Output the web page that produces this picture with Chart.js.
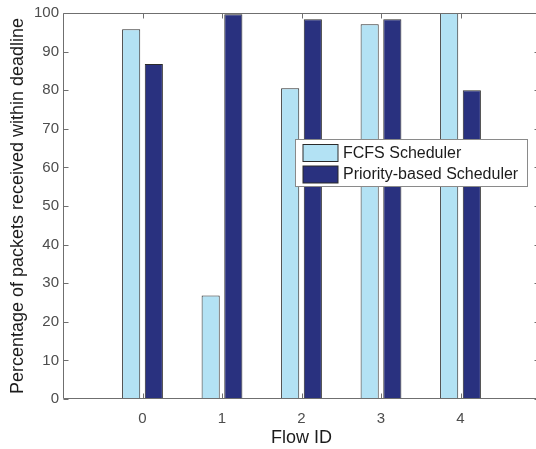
<!DOCTYPE html>
<html>
<head>
<meta charset="utf-8">
<script src="https://cdn.jsdelivr.net/npm/chart.js@4/dist/chart.umd.min.js"></script>
<style>
  html, body { margin: 0; padding: 0; background: #ffffff; overflow: hidden; }
  #wrap { width: 536px; height: 449px; overflow: hidden; }
</style>
</head>
<body>
<div id="wrap">
  <!-- canvas is a few px wider than the window: the right axis of the original is cropped -->
  <canvas id="chartFlows" width="541" height="449"></canvas>
</div>
<script>
const flowIds = [0, 1, 2, 3, 4];
const flowLabels = ['0', '1', '2', '3', '4'];
const fcfsValues = [95.8, 26.8, 80.5, 97.1, 100];
const priorityValues = [86.8, 99.7, 98.4, 98.4, 80.0];
const yTicks = [0, 10, 20, 30, 40, 50, 60, 70, 80, 90, 100];

const AXIS = '#6f6f6f';
const TICK_TEXT = '#4d4d4d';
const TITLE_TEXT = '#1c1c1c';
const FONT = 'Liberation Sans, Arial, Helvetica, sans-serif';

// caixa estilo matlab: borda nos 4 lados, ticks para dentro
const boxPlugin = {
  id: 'matlabBox',
  afterDatasetsDraw(chart) {
    const { ctx, chartArea: a, scales } = chart;
    const L = Math.round(a.left) + 0.5, R = Math.round(a.right) - 0.5;
    const T = Math.round(a.top) + 0.5, B = Math.round(a.bottom) - 0.5;
    ctx.save();
    ctx.strokeStyle = AXIS;
    ctx.lineWidth = 1;
    ctx.beginPath();
    ctx.rect(L, T, R - L, B - T);
    yTicks.forEach((v) => {
      const y = Math.round(scales.y.getPixelForValue(v)) + 0.5;
      ctx.moveTo(L, y); ctx.lineTo(L + 5, y);
      ctx.moveTo(R, y); ctx.lineTo(R - 5, y);
    });
    flowIds.forEach((v) => {
      const x = Math.round(scales.x.getPixelForValue(v)) + 0.5;
      ctx.moveTo(x, B); ctx.lineTo(x, B - 5);
      ctx.moveTo(x, T); ctx.lineTo(x, T + 5);
    });
    ctx.stroke();
    ctx.restore();
  },
  afterDraw(chart) {
    // legenda dentro do grafico, caixa branca
    const { ctx } = chart;
    const box = { x: 295.5, y: 139.5, w: 232, h: 47 };
    ctx.save();
    ctx.fillStyle = '#ffffff';
    ctx.fillRect(box.x, box.y, box.w, box.h);
    ctx.strokeStyle = '#8a8a8a';
    ctx.lineWidth = 1;
    ctx.strokeRect(box.x, box.y, box.w, box.h);
    ctx.font = '16px ' + FONT;
    ctx.textBaseline = 'middle';
    ctx.textAlign = 'left';
    chart.data.datasets.forEach((ds, i) => {
      const py = 144.5 + i * 21.5;
      ctx.fillStyle = ds.backgroundColor;
      ctx.fillRect(303, py, 35, 17);
      ctx.strokeStyle = '#2b2b2b';
      ctx.strokeRect(303, py, 35, 17);
      ctx.fillStyle = TITLE_TEXT;
      ctx.fillText(ds.label, 343, py + 9);
    });
    ctx.restore();
  },
};

new Chart(document.getElementById('chartFlows'), {
  type: 'bar',
  data: {
    datasets: [
      {
        label: 'FCFS Scheduler',
        data: flowIds.map((x, i) => ({ x, y: fcfsValues[i] })),
        backgroundColor: '#b3e2f4',
        borderColor: '#2b2b2b',
        borderWidth: 1,
      },
      {
        label: 'Priority-based Scheduler',
        data: flowIds.map((x, i) => ({ x, y: priorityValues[i] })),
        backgroundColor: '#29317f',
        borderColor: '#2b2b2b',
        borderWidth: 1,
      },
    ],
  },
  options: {
    responsive: false,
    animation: false,
    categoryPercentage: 0.57,
    barPercentage: 0.8,
    layout: { padding: { top: 13, right: 1, bottom: 0, left: 0 } },
    plugins: { legend: { display: false }, tooltip: { enabled: false } },
    scales: {
      x: {
        type: 'linear',
        min: -1,
        max: 5,
        offset: false,
        grid: { display: false, drawTicks: false },
        border: { display: false },
        afterBuildTicks: (scale) => { scale.ticks = flowIds.map((v) => ({ value: v })); },
        afterFit: (scale) => { scale.height = 50; },
        ticks: {
          padding: 11,
          color: TICK_TEXT,
          font: { family: FONT, size: 15 },
          callback: (v) => flowLabels[flowIds.indexOf(v)] ?? '',
        },
        title: {
          display: true,
          text: 'Flow ID',
          color: TITLE_TEXT,
          font: { family: FONT, size: 18 },
          padding: { top: 0, bottom: 0 },
        },
      },
      y: {
        min: 0,
        max: 100,
        grid: { display: false, drawTicks: false },
        border: { display: false },
        afterBuildTicks: (scale) => { scale.ticks = yTicks.map((v) => ({ value: v })); },
        afterFit: (scale) => { scale.width = 63; },
        ticks: {
          padding: 4,
          color: TICK_TEXT,
          font: { family: FONT, size: 15 },
        },
        title: {
          display: true,
          text: 'Percentage of packets received within deadline',
          color: TITLE_TEXT,
          font: { family: FONT, size: 18 },
          padding: { top: 7, bottom: 0 },
        },
      },
    },
  },
  plugins: [boxPlugin],
});
</script>
</body>
</html>
